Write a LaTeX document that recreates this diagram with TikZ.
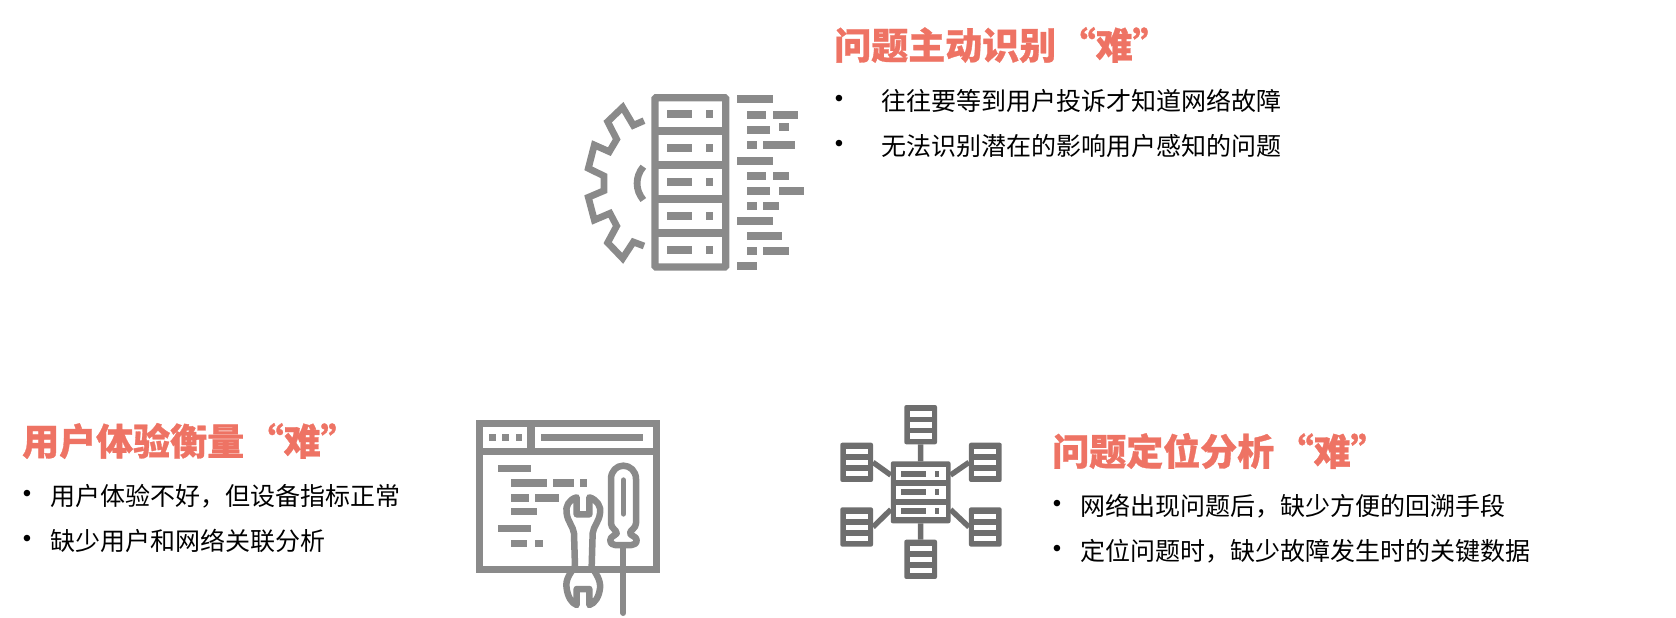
\documentclass[tikz,border=0pt]{standalone}
\usepackage{fontspec}
\setmainfont{Liberation Sans}
\newfontfamily\cjk[BoldFeatures={FakeBold=0.8}]{Noto Sans CJK SC}
\usetikzlibrary{positioning}
\definecolor{titlered}{HTML}{EE7364}
\definecolor{icongray}{HTML}{8A8A8A}
\definecolor{icondark}{HTML}{6E6E6E}
\newcommand{\iconw}{7.2pt}
\newcommand{\hardword}{\hspace{2.5pt}“难”}
\tikzset{
    titletext/.style = {anchor=west, inner sep=0pt, text=titlered, font=\cjk\bfseries\fontsize{37}{40}\selectfont},
    linetext/.style = {anchor=west, inner sep=0pt, font=\cjk\fontsize{25}{30}\selectfont},
    dotmark/.style = {inner sep=0pt, font=\rmfamily\fontsize{24}{26}\selectfont},
    rackbox/.style = {fill=icondark, rounded corners=2pt, minimum width=32.7pt, minimum height=39.3pt, inner sep=0pt, outer sep=0pt},
    rackcell/.style = {fill=white, minimum width=22pt, minimum height=5.4pt, inner sep=0pt},
    hubbox/.style = {fill=icondark, rounded corners=2pt, minimum width=59.7pt, minimum height=62pt, inner sep=0pt, outer sep=0pt},
    hubcell/.style = {fill=white, minimum width=49.7pt, minimum height=12.7pt, inner sep=0pt},
    hublink/.style = {draw=icondark, line width=5.4pt},
    iconline/.style = {draw=icongray, line width=\iconw}
}
\begin{document}
\begin{tikzpicture}[x=1pt,y=-1pt]
    \useasboundingbox (0,0) rectangle (1676,618);
    % texts
    \node[titletext] (title1) at (834,45) {问题主动识别\hardword};
    \node[dotmark] (dot1a) at (839,101) {•};
    \node[linetext] (line1a) at (881,101) {往往要等到用户投诉才知道网络故障};
    \node[dotmark] (dot1b) at (839,146) {•};
    \node[linetext] (line1b) at (881,146) {无法识别潜在的影响用户感知的问题};

    \node[titletext] (title2) at (22,441) {用户体验衡量\hardword};
    \node[dotmark] (dot2a) at (27,496) {•};
    \node[linetext] (line2a) at (50,496) {用户体验不好，但设备指标正常};
    \node[dotmark] (dot2b) at (27,541) {•};
    \node[linetext] (line2b) at (50,541) {缺少用户和网络关联分析};

    \node[titletext] (title3) at (1052,451) {问题定位分析\hardword};
    \node[dotmark] (dot3a) at (1057,506) {•};
    \node[linetext] (line3a) at (1080,506) {网络出现问题后，缺少方便的回溯手段};
    \node[dotmark] (dot3b) at (1057,551) {•};
    \node[linetext] (line3b) at (1080,551) {定位问题时，缺少故障发生时的关键数据};

    % gear and rack
    \begin{scope}[shift={(560,70)},scale=1/3]
        \draw[iconline,rounded corners=1pt] (285,83) rectangle (497,591);
        \foreach \yc in {183,285,387,489}
            \draw[iconline] (285,\yc) -- (497,\yc);
        \foreach \yc in {133,235,337,438,540} {
            \fill[icongray] (320,\yc-12) rectangle (397,\yc+12);
            \fill[icongray] (437,\yc-12) rectangle (458,\yc+12);
        }
        \foreach \xa/\xb/\yc in {530/640/87,560/617/136,640/714/136,656/686/172,560/631/181,
                                 560/591/226,609/704/226,530/640/272,560/617/317,640/686/317,
                                 560/631/363,656/732/363,560/591/407,609/656/407,530/640/453,
                                 560/666/498,560/591/542,609/686/542,530/591/589}
            \fill[icongray] (\xa,\yc-12) rectangle (\xb,\yc+12);
        \draw[iconline,line width=6.8pt] (252,152) -- (220,166) -- (188,112) -- (143,155) -- (170,208)
            -- (148,245) -- (103,225) -- (85,295) -- (132,318) -- (132,362) -- (85,382) -- (103,450)
            -- (150,430) -- (170,468) -- (143,518) -- (188,565) -- (220,516) -- (252,528);
        \draw[iconline,line width=6.8pt] (250,290) .. controls (225,320) and (225,360) .. (250,390);
    \end{scope}

    % window with wrench and screwdriver
    \begin{scope}[shift={(555,455)},scale=1/3]
        \draw[iconline,line width=6.5pt,fill=white,line join=round]
            (65,127) .. controls (42,133) and (30,155) .. (35,175)
            .. controls (38,200) and (55,215) .. (57,235) -- (60,335)
            .. controls (45,355) and (30,375) .. (35,400)
            .. controls (38,425) and (50,445) .. (65,450) -- (65,402) -- (103,402) -- (103,450)
            .. controls (120,445) and (132,425) .. (135,400)
            .. controls (138,375) and (122,355) .. (110,335) -- (113,235)
            .. controls (115,215) and (132,200) .. (135,175)
            .. controls (140,155) and (125,133) .. (103,127) -- (103,178) -- (65,178) -- cycle;
        \draw[iconline,line width=6.5pt,fill=white,line join=round]
            (205,32) .. controls (185,32) and (168,48) .. (168,72) -- (168,205)
            .. controls (168,220) and (185,225) .. (185,235)
            .. controls (180,242) and (166,245) .. (166,255)
            .. controls (166,265) and (172,270) .. (180,270) -- (230,270)
            .. controls (238,270) and (245,265) .. (245,255)
            .. controls (245,245) and (227,242) .. (225,235)
            .. controls (225,225) and (243,220) .. (243,205) -- (243,72)
            .. controls (243,48) and (225,32) .. (205,32) -- cycle;
        \draw[iconline,line width=5.3pt,line cap=round] (205,75) -- (205,177);
        \draw[iconline,line width=6pt,line cap=round] (205,270) -- (205,474);
    \end{scope}
    \begin{scope}[shift={(460,400)},scale=1/3]
        \draw[iconline] (58,70) rectangle (590,508);
        \draw[iconline] (58,155) -- (590,155);
        \draw[iconline] (213,70) -- (213,155);
        \foreach \xa/\xb in {87/107,127/147,167/187}
            \fill[icongray] (\xa,103) rectangle (\xb,123);
        \fill[icongray] (243,102) rectangle (549,124);
        \foreach \xa/\xb/\yc in {114/213/205,152/260/249,279/342/249,360/380/249,152/207/294,
                                 225/297/294,152/232/335,114/213/386,152/200/430,225/249/430}
            \fill[icongray] (\xa,\yc-11) rectangle (\xb,\yc+11);
    \end{scope}

    % network of racks
    \begin{scope}[shift={(820,390)},scale=1/3]
        \node[hubbox] (hub) at (302,307) {};
        \foreach \k/\d in {1/56,2/0,3/-56} {
            \node[hubcell] (hub\k) at ([yshift=\d pt]hub) {};
            \fill[icondark] ([shift={(-59.5,-9)}]hub\k.center) rectangle ([shift={(14.5,9)}]hub\k.center);
            \fill[icondark] ([shift={(41.5,-9)}]hub\k.center) rectangle ([shift={(53.5,9)}]hub\k.center);
        }
        \foreach \n/\cx/\cy in {rtop/302/104,rbot/302/508,rul/110/217,rur/496/217,rll/110/411,rlr/496/411} {
            \node[rackbox] (\n) at (\cx,\cy) {};
            \foreach \k/\d in {1/32,2/-1,3/-34}
                \node[rackcell] (\n\k) at ([yshift=\d pt]\n) {};
        }
        \draw[hublink] (rtop) -- (hub);
        \draw[hublink] (rbot) -- (hub);
        \draw[hublink] (rul.east) -- (hub.150);
        \draw[hublink] (rur.west) -- (hub.30);
        \draw[hublink] (rll.east) -- (hub.210);
        \draw[hublink] (rlr.west) -- (hub.330);
    \end{scope}
\end{tikzpicture}
\end{document}
